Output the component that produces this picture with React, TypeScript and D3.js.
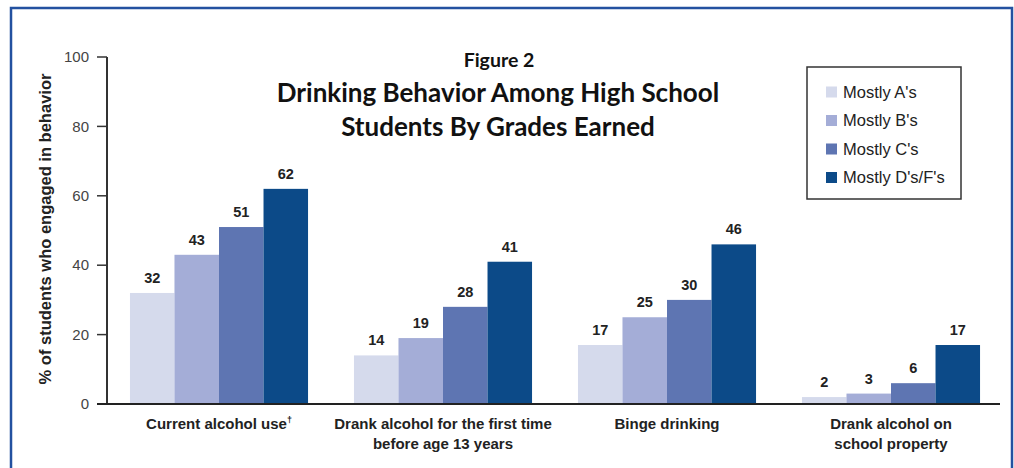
import React from "react";
import * as d3 from "d3";

const categories = [
  ["Current alcohol use"],
  ["Drank alcohol for the first time", "before age 13 years"],
  ["Binge drinking"],
  ["Drank alcohol on", "school property"],
];
const categoryMarks = ["†", "", "", ""];
const seriesNames = ["Mostly A's", "Mostly B's", "Mostly C's", "Mostly D's/F's"];
const seriesColors = ["#d5daec", "#a4add7", "#5e75b2", "#0c4a88"];
const mostlyA = [32, 14, 17, 2];
const mostlyB = [43, 19, 25, 3];
const mostlyC = [51, 28, 30, 6];
const mostlyDF = [62, 41, 46, 17];
const yTicks = [0, 20, 40, 60, 80, 100];

const W = 1014, H = 468;
const axisX = 107, axisRight = 1003, y0 = 404, y100 = 57;

export default function App() {
  const series = [mostlyA, mostlyB, mostlyC, mostlyDF];
  const y = d3.scaleLinear().domain([0, 100]).range([y0, y100]);
  const x0 = d3.scaleBand<number>().domain(d3.range(categories.length)).range([axisX, axisRight]).paddingInner(0.205).paddingOuter(0.1025);
  const x1 = d3.scaleBand<number>().domain(d3.range(series.length)).range([0, x0.bandwidth()]).padding(0);
  const sans = "'Liberation Sans', Arial, sans-serif";
  const narrow = "'Liberation Sans Narrow', 'Liberation Sans', sans-serif";
  return (
    <svg width={W} height={H} style={{ position: "fixed", left: 0, top: 0, background: "#fff" }}>
      <rect x={11} y={8} width={1001} height={480} fill="#fff" stroke="#2351a0" strokeWidth={2.5} />
      {/* title */}
      <g fontFamily="Lato, 'Open Sans', sans-serif" fontWeight="bold" fill="#111" textAnchor="middle">
        <text x={499} y={67} fontSize={19.5}>Figure 2</text>
        <text x={498} y={102} fontSize={26}>Drinking Behavior Among High School</text>
        <text x={498} y={136} fontSize={26}>Students By Grades Earned</text>
      </g>
      {/* bars */}
      {categories.map((c, i) => (
        <g key={i} transform={`translate(${x0(i)},0)`}>
          {series.map((s, j) => (
            <g key={j}>
              <rect x={x1(j)} y={y(s[i])} width={x1.bandwidth()} height={y(0) - y(s[i])} fill={seriesColors[j]} />
              <text x={(x1(j) as number) + x1.bandwidth() / 2} y={y(s[i]) - 10} textAnchor="middle" fontFamily={sans} fontWeight="bold" fontSize={14.5} fill="#222">{s[i]}</text>
            </g>
          ))}
        </g>
      ))}
      {/* y axis */}
      <line x1={axisX} x2={axisX} y1={y(100)} y2={y(0)} stroke="#333" strokeWidth={2} />
      {yTicks.map((t) => (
        <g key={t}>
          <line x1={axisX - 10} x2={axisX} y1={y(t)} y2={y(t)} stroke="#333" strokeWidth={1.5} />
          <text x={axisX - 18} y={y(t)} dy="0.35em" textAnchor="end" fontFamily={sans} fontSize={15} fill="#444">{t}</text>
        </g>
      ))}
      <line x1={axisX - 10} x2={axisRight - 3} y1={y0} y2={y0} stroke="#222" strokeWidth={2} />
      <text transform={`translate(45,${229}) rotate(-90)`} textAnchor="middle" dy="0.35em" fontFamily={sans} fontWeight="bold" fontSize={16.5} fill="#222">% of students who engaged in behavior</text>
      {/* x labels */}
      {categories.map((c, i) => {
        const cx = (x0(i) as number) + x0.bandwidth() / 2;
        return (
          <text key={i} x={cx} y={429} textAnchor="middle" fontFamily={narrow} fontWeight="bold" fontSize={15} fill="#222">
            {c.map((line, k) => (
              <tspan key={k} x={cx} dy={k === 0 ? 0 : 20}>{line}{k === 0 && categoryMarks[i] ? <tspan fontSize={9} dy={-6}>{categoryMarks[i]}</tspan> : null}</tspan>
            ))}
          </text>
        );
      })}
      {/* legend */}
      <rect x={807} y={67} width={154} height={132} fill="#fff" stroke="#333" strokeWidth={1.5} />
      {seriesNames.map((n, j) => (
        <g key={j} transform={`translate(826,${92 + j * 28.5})`}>
          <rect x={0} y={-5.5} width={11} height={11} fill={seriesColors[j]} />
          <text x={17} y={0} dy="0.35em" fontFamily={sans} fontSize={16.5} fill="#222">{n}</text>
        </g>
      ))}
    </svg>
  );
}
